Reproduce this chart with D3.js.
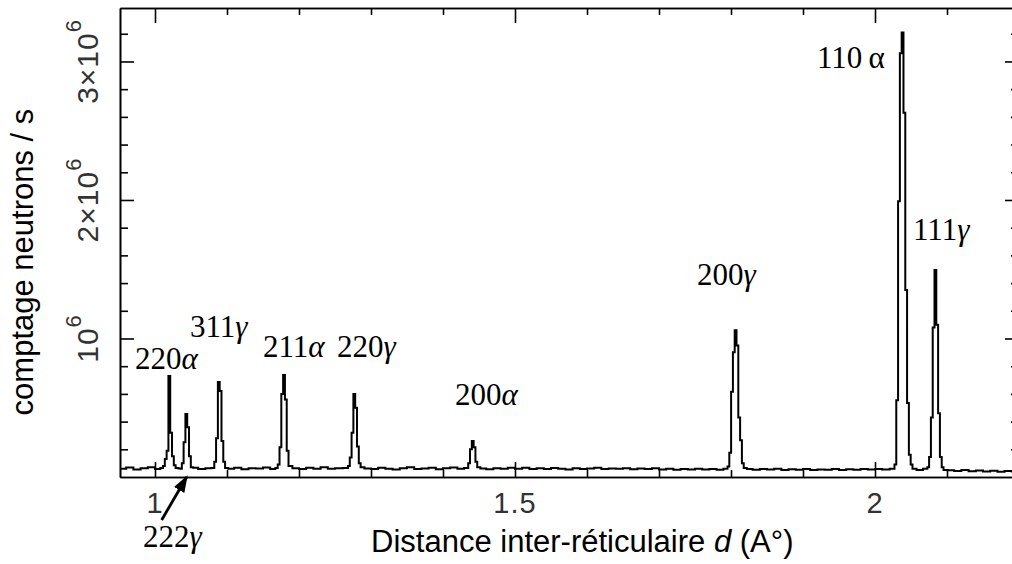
<!DOCTYPE html>
<html>
<head>
<meta charset="utf-8">
<script src="https://cdn.jsdelivr.net/npm/d3@7"></script>
<style>
  html, body { margin: 0; padding: 0; background: #fff; }
  svg { display: block; }
</style>
</head>
<body>
<div id="chart"></div>
<script>
// neutron diffraction spectrum: d in Angstrom, counts in 1000 neutrons / s
// each peak is a list of [d, counts] bins
var peak220a = [[1.0099,65],[1.0124,80],[1.0149,130],[1.0174,190],[1.0199,730],[1.0224,320],[1.0249,150],[1.0274,85],[1.0299,65]];
var peak222g = [[1.0361,60],[1.0385,100],[1.0410,250],[1.0435,455],[1.0460,360],[1.0485,150],[1.0510,70]];
var peak311g = [[1.0811,65],[1.0836,110],[1.0861,280],[1.0886,686],[1.0911,620],[1.0936,260],[1.0961,110],[1.0986,65]];
var peak211a = [[1.1692,65],[1.1717,90],[1.1742,215],[1.1767,600],[1.1792,736],[1.1817,560],[1.1842,190],[1.1867,80]];
var peak220g = [[1.2668,65],[1.2693,80],[1.2718,140],[1.2743,320],[1.2768,600],[1.2793,500],[1.2818,220],[1.2843,100],[1.2868,70]];
var peak200a = [[1.4337,65],[1.4363,100],[1.4388,200],[1.4413,260],[1.4438,215],[1.4463,110],[1.4488,70]];
var peak200g = [[1.7939,60],[1.7964,75],[1.7989,175],[1.8014,615],[1.8039,900],[1.8064,1060],[1.8089,950],[1.8114,430],[1.8139,265],[1.8164,100],[1.8189,65]];
var peak110a = [[2.0258,60],[2.0283,90],[2.0308,555],[2.0333,1990],[2.0358,3060],[2.0383,3210],[2.0408,2630],[2.0433,1350],[2.0458,535],[2.0483,160],[2.0508,90],[2.0533,60]];
var peak111g = [[2.0714,60],[2.0739,70],[2.0764,145],[2.0789,430],[2.0814,1080],[2.0839,1495],[2.0864,1100],[2.0889,460],[2.0914,145],[2.0939,70],[2.0964,50]];

// background between the peaks
var background = [
  [0.945,62],[0.955,60],[0.965,68],[0.975,55],[0.985,64],[0.995,70],[1.005,58],[1.035,62],[1.055,66],[1.065,58],[1.075,63],
  [1.105,60],[1.115,67],[1.125,56],[1.135,64],[1.145,61],[1.155,69],[1.165,58],[1.195,63],[1.205,57],[1.215,66],
  [1.225,60],[1.235,71],[1.245,59],[1.255,64],[1.295,62],[1.305,57],[1.315,66],[1.325,60],[1.335,55],[1.345,64],
  [1.355,70],[1.365,58],[1.375,62],[1.385,67],[1.395,56],[1.405,63],[1.415,69],[1.425,60],[1.455,62],[1.465,56],
  [1.475,64],[1.485,59],[1.495,66],[1.505,60],[1.515,67],[1.525,58],[1.535,63],[1.545,57],[1.555,65],[1.565,60],
  [1.575,55],[1.585,63],[1.595,58],[1.605,61],[1.615,66],[1.625,57],[1.635,62],[1.645,59],[1.655,64],[1.665,56],
  [1.675,61],[1.685,58],[1.695,63],[1.705,55],[1.715,60],[1.725,52],[1.735,57],[1.745,54],[1.755,60],[1.765,55],
  [1.775,58],[1.785,53],[1.825,57],[1.835,52],[1.845,58],[1.855,54],[1.865,60],[1.875,51],[1.885,56],[1.895,53],
  [1.905,58],[1.915,50],[1.925,55],[1.935,52],[1.945,57],[1.955,51],[1.965,56],[1.975,53],[1.985,58],[1.995,54],
  [2.005,57],[2.015,55],[2.062,50],[2.105,48],[2.115,44],[2.125,50],[2.135,42],[2.145,47],[2.155,40],[2.165,45],
  [2.175,38],[2.185,44],[2.195,40],[2.205,42]
];

// axis ticks
var xMajor = [1, 1.5, 2];
var xMinor = [1.1, 1.2, 1.3, 1.4, 1.6, 1.7, 1.8, 1.9, 2.1];
var xLabels = ["1", "1.5", "2"];
var yMajor = [1000, 2000, 3000];
var yMinor = [200, 400, 600, 800, 1200, 1400, 1600, 1800, 2200, 2400, 2600, 2800, 3200];
var yLabels = ["10", "2\u00d710", "3\u00d710"];

// peak names: hkl, phase letter, whether the letter is italic
var peakNames = [
  ["220", "\u03b1", true], ["311", "\u03b3", true], ["211", "\u03b1", true], ["220", "\u03b3", true],
  ["200", "\u03b1", true], ["200", "\u03b3", true], ["110", "\u2009\u03b1", false], ["111", "\u03b3", true],
  ["222", "\u03b3", true]
];
// where each name sits, in data units (start of text, baseline)
var labelAnchors = [
  [0.9722, 780], [1.0486, 1011], [1.15, 866], [1.2528, 866],
  [1.4167, 520], [1.7528, 1386], [1.9194, 2953], [2.0528, 1711],
  [0.9833, -505]
];

// set the dimensions and margins of the graph
var margin = {top: 8, right: -7, bottom: 87, left: 120},
    width = 1012 - margin.left - margin.right,
    height = 564 - margin.top - margin.bottom;

var x = d3.scaleLinear()
          .domain([0.9514, 2.2])
          .range([0, width]);

var y = d3.scaleLinear()
          .domain([0, 3386])
          .range([height, 0]);

var svg = d3.select("#chart").append("svg")
    .attr("width", 1012)
    .attr("height", 564);

var g = svg.append("g")
    .attr("transform", "translate(" + margin.left + "," + margin.top + ")");

svg.append("defs").append("clipPath")
    .attr("id", "plotclip")
  .append("rect")
    .attr("width", width)
    .attr("height", height);

svg.select("defs").append("marker")
    .attr("id", "arrowhead")
    .attr("markerUnits", "userSpaceOnUse")
    .attr("viewBox", "0 0 17 12")
    .attr("refX", 15)
    .attr("refY", 6)
    .attr("markerWidth", 17)
    .attr("markerHeight", 12)
    .attr("orient", "auto")
  .append("path")
    .attr("d", "M0,0L17,6L0,12Z")
    .attr("fill", "#000");

// merge peaks with background
var peaks = [peak220a, peak222g, peak311g, peak211a, peak220g, peak200a, peak200g, peak110a, peak111g];
var spectrum = background.filter(function(p) {
  return !peaks.some(function(pk) { return p[0] >= pk[0][0] && p[0] <= pk[pk.length - 1][0]; });
});
peaks.forEach(function(pk) { spectrum = spectrum.concat(pk); });
spectrum.sort(function(a, b) { return a[0] - b[0]; });

var line = d3.line()
    .x(function(d) { return x(d[0]); })
    .y(function(d) { return y(d[1]); })
    .curve(d3.curveStep);

g.append("path")
    .datum(spectrum)
    .attr("clip-path", "url(#plotclip)")
    .attr("fill", "none")
    .attr("stroke", "#000")
    .attr("stroke-width", 2)
    .attr("stroke-linejoin", "miter")
    .attr("d", line);

// axes, ticks pointing inward on all four sides
function styleAxis(sel) {
  sel.selectAll("path").attr("stroke", "#000").attr("stroke-width", 1.6);
  sel.selectAll("line").attr("stroke", "#000").attr("stroke-width", 1.6);
  sel.selectAll("text").remove();
}

g.append("g").attr("transform", "translate(0," + height + ")")
    .call(d3.axisBottom(x).tickValues(xMajor).tickSize(-15).tickSizeOuter(0)).call(styleAxis);
g.append("g").attr("transform", "translate(0," + height + ")")
    .call(d3.axisBottom(x).tickValues(xMinor).tickSize(-7).tickSizeOuter(0)).call(styleAxis);
g.append("g")
    .call(d3.axisTop(x).tickValues(xMajor).tickSize(-15).tickSizeOuter(0)).call(styleAxis);
g.append("g")
    .call(d3.axisTop(x).tickValues(xMinor).tickSize(-7).tickSizeOuter(0)).call(styleAxis);
g.append("g")
    .call(d3.axisLeft(y).tickValues(yMajor).tickSize(-14).tickSizeOuter(0)).call(styleAxis);
g.append("g")
    .call(d3.axisLeft(y).tickValues(yMinor).tickSize(-8).tickSizeOuter(0)).call(styleAxis);
g.append("g").attr("transform", "translate(" + width + ",0)")
    .call(d3.axisRight(y).tickValues(yMajor).tickSize(-14).tickSizeOuter(0)).call(styleAxis);
g.append("g").attr("transform", "translate(" + width + ",0)")
    .call(d3.axisRight(y).tickValues(yMinor).tickSize(-8).tickSizeOuter(0)).call(styleAxis);

// x tick labels
g.selectAll(".xlab")
    .data(xMajor)
  .enter().append("text")
    .attr("class", "xlab")
    .attr("x", function(d) { return x(d); })
    .attr("y", height + 36)
    .attr("text-anchor", "middle")
    .attr("font-family", "'Liberation Sans', Arial, sans-serif")
    .attr("font-size", 29)
    .attr("letter-spacing", 1)
    .attr("fill", "#333")
    .text(function(d, i) { return xLabels[i]; });

// y tick labels, rotated, with power of ten
var ylab = g.selectAll(".ylab")
    .data(yMajor)
  .enter().append("text")
    .attr("class", "ylab")
    .attr("transform", function(d) { return "translate(-22," + y(d) + ") rotate(-90)"; })
    .attr("text-anchor", "middle")
    .attr("font-family", "'Liberation Sans', Arial, sans-serif")
    .attr("font-size", 30)
    .attr("letter-spacing", 1)
    .attr("fill", "#333");
ylab.append("tspan").text(function(d, i) { return yLabels[i]; });
ylab.append("tspan").attr("dy", -17).attr("font-size", 22).text("6");

// axis titles
svg.append("text")
    .attr("transform", "translate(33," + (margin.top + y(1552)) + ") rotate(-90)")
    .attr("text-anchor", "middle")
    .attr("font-family", "'Liberation Sans', Arial, sans-serif")
    .attr("font-size", 31)
    .attr("fill", "#000")
    .text("comptage neutrons / s");

var xt = svg.append("text")
    .attr("x", margin.left + x(1.5935))
    .attr("y", 552)
    .attr("text-anchor", "middle")
    .attr("font-family", "'Liberation Sans', Arial, sans-serif")
    .attr("font-size", 31)
    .attr("fill", "#000");
xt.append("tspan").text("Distance inter-r\u00e9ticulaire ");
xt.append("tspan").attr("font-style", "italic").text("d");
xt.append("tspan").text(" (A\u00b0)");

// peak names
var names = g.selectAll(".pk")
    .data(peakNames)
  .enter().append("text")
    .attr("class", "pk")
    .attr("x", function(d, i) { return x(labelAnchors[i][0]); })
    .attr("y", function(d, i) { return y(labelAnchors[i][1]); })
    .attr("font-family", "'Liberation Serif', 'Times New Roman', serif")
    .attr("font-size", 31)
    .attr("fill", "#000");
names.append("tspan").text(function(d) { return d[0]; });
names.append("tspan")
    .attr("font-style", function(d) { return d[2] ? "italic" : "normal"; })
    .text(function(d) { return d[1]; });

// arrow pointing at the 222 gamma peak
g.append("line")
    .attr("x1", x(1.0093))
    .attr("y1", y(-310))
    .attr("x2", x(1.044))
    .attr("y2", y(0))
    .attr("stroke", "#000")
    .attr("stroke-width", 2.8)
    .attr("marker-end", "url(#arrowhead)");
</script>
</body>
</html>
